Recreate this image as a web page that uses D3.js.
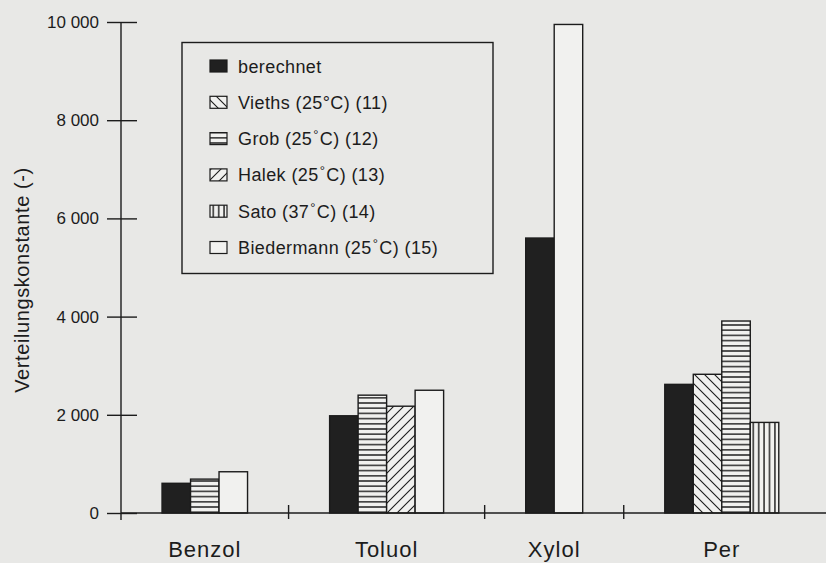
<!DOCTYPE html>
<html>
<head>
<meta charset="utf-8">
<script src="https://cdn.jsdelivr.net/npm/d3@7"></script>
<style>
  body { margin: 0; background: #e8e8e6; }
  svg { display: block; }
  text { font-family: "Liberation Sans", Arial, sans-serif; fill: #1c1c1c; }
</style>
</head>
<body>
<svg></svg>
<script>
// data
const categories = ["Benzol", "Toluol", "Xylol", "Per"];
const seriesNames = ["berechnet", "Vieths", "Grob", "Halek", "Sato", "Biedermann"];
const seriesLabels = [
    "berechnet",
    "Vieths (25°C) (11)",
    "Grob (25˚C) (12)",
    "Halek (25˚C) (13)",
    "Sato (37˚C) (14)",
    "Biedermann (25˚C) (15)"
];
const berechnet = [605, 1980, 5600, 2620];
const vieths = [null, null, null, 2825];
const grob = [690, 2400, null, 3910];
const halek = [null, 2175, null, null];
const sato = [null, null, null, 1845];
const biedermann = [840, 2500, 9950, null];
const yTicks = [0, 2000, 4000, 6000, 8000, 10000];

const allValues = [berechnet, vieths, grob, halek, sato, biedermann];

let width = 826;
let height = 563;
const svg = d3.select("svg").attr("width", width).attr("height", height);

const ink = "#1c1c1c";
const x0 = 121, yTop = 22, yBase = 513;

let y = d3.scaleLinear().domain([0, 10000]).range([yBase, yTop]);

// patterns
const defs = svg.append("defs");
function pat(id, w, h, draw) {
    let p = defs.append("pattern").attr("id", id)
        .attr("patternUnits", "userSpaceOnUse")
        .attr("width", w).attr("height", h);
    p.append("rect").attr("width", w).attr("height", h).attr("fill", "#f1f1ef");
    draw(p);
}
pat("p-vieths", 10, 10, p => p.append("path")
    .attr("d", "M-1,-1 L11,11 M-2,8 L2,12 M8,-2 L12,2")
    .attr("stroke", ink).attr("stroke-width", 1.1));
pat("p-grob", 10, 5.2, p => p.append("line")
    .attr("x1", 0).attr("x2", 10).attr("y1", 2.6).attr("y2", 2.6)
    .attr("stroke", ink).attr("stroke-width", 1.4));
pat("p-halek", 10, 10, p => p.append("path")
    .attr("d", "M-1,11 L11,-1 M-2,2 L2,-2 M8,12 L12,8")
    .attr("stroke", ink).attr("stroke-width", 1.1));
pat("p-sato", 5.4, 10, p => p.append("line")
    .attr("y1", 0).attr("y2", 10).attr("x1", 2.7).attr("x2", 2.7)
    .attr("stroke", ink).attr("stroke-width", 1.4));

const fills = ["#202020", "url(#p-vieths)", "url(#p-grob)", "url(#p-halek)", "url(#p-sato)", "#f1f1ef"];

// bars of each group sit side by side, groups separated by a gap (in bar widths)
const groupGap = 2.88;
let groups = categories.map((c, i) => ({
    name: c,
    bars: allValues.map((vals, s) => ({ s: s, value: vals[i] })).filter(d => d.value != null)
}));
let pos = groupGap / 2;
groups.forEach(g => {
    g.start = pos;
    g.bars.forEach((b, k) => b.u = pos + k);
    pos += g.bars.length;
    g.end = pos;
    pos += groupGap;
});
let totalUnits = pos - groupGap / 2;
let x = d3.scaleLinear().domain([0, totalUnits]).range([x0, x0 + totalUnits * 28.5]);

// bars
const barG = svg.append("g");
groups.forEach(g => {
    barG.selectAll(null)
        .data(g.bars)
        .enter()
        .append("rect")
        .attr("x", d => x(d.u))
        .attr("y", d => y(d.value))
        .attr("width", x(1) - x(0))
        .attr("height", d => yBase - y(d.value))
        .attr("fill", d => fills[d.s])
        .attr("stroke", ink)
        .attr("stroke-width", 1.4);
});

// y axis
const fmt = d3.formatLocale({ decimal: ",", thousands: " ", grouping: [3], currency: ["", ""] }).format(",");
let yAxis = d3.axisLeft(y).tickValues(yTicks).tickFormat(fmt).tickSize(0).tickPadding(22);
let ya = svg.append("g").attr("transform", `translate(${x0},0)`).call(yAxis);
ya.select(".domain").remove();
ya.selectAll(".tick line").attr("x1", -14).attr("x2", 16).attr("stroke", ink).attr("stroke-width", 1.4);
ya.selectAll(".tick text").attr("font-size", 17).attr("fill", ink)
    .style("font-family", "'Liberation Sans', Arial, sans-serif");
svg.append("line").attr("x1", x0).attr("x2", x0).attr("y1", y(10000)).attr("y2", yBase + 7)
    .attr("stroke", ink).attr("stroke-width", 1.4);

// x axis
svg.append("line").attr("x1", x0).attr("x2", width).attr("y1", yBase).attr("y2", yBase)
    .attr("stroke", ink).attr("stroke-width", 1.4);
let seps = groups.slice(1).map(g => g.start - groupGap / 2);
svg.selectAll(".sep").data(seps).enter().append("line")
    .attr("x1", d => x(d)).attr("x2", d => x(d))
    .attr("y1", yBase - 8).attr("y2", yBase + 6)
    .attr("stroke", ink).attr("stroke-width", 1.4);
svg.selectAll(".cat").data(groups).enter().append("text")
    .attr("x", d => x((d.start + d.end) / 2))
    .attr("y", 557)
    .attr("text-anchor", "middle")
    .attr("font-size", 22)
    .attr("letter-spacing", 1)
    .text(d => d.name);

// y title
svg.append("text")
    .attr("transform", "translate(29,280) rotate(-90)")
    .attr("text-anchor", "middle")
    .attr("font-size", 20)
    .attr("letter-spacing", 0.6)
    .text("Verteilungskonstante (-)");

// legend
const leg = svg.append("g");
leg.append("rect").attr("x", 182).attr("y", 42.5).attr("width", 311).attr("height", 231)
    .attr("fill", "none").attr("stroke", ink).attr("stroke-width", 1.4);
seriesNames.forEach((s, i) => {
    let cy = 66 + i * 36.3;
    leg.append("rect").attr("x", 210).attr("y", cy - 6).attr("width", 17).attr("height", 12)
        .attr("fill", fills[i]).attr("stroke", ink).attr("stroke-width", 1.2);
    let t = leg.append("text").attr("x", 238).attr("y", cy + 6.5)
        .attr("font-size", 18).attr("letter-spacing", 0.4);
    let parts = seriesLabels[i].split("˚");
    t.append("tspan").text(parts[0]);
    if (parts.length > 1) {
        t.append("tspan").attr("dy", -6).attr("dx", 1).attr("font-size", 13).text("°");
        t.append("tspan").attr("dy", 6).attr("dx", 1).text(parts[1]);
    }
});
</script>
</body>
</html>
